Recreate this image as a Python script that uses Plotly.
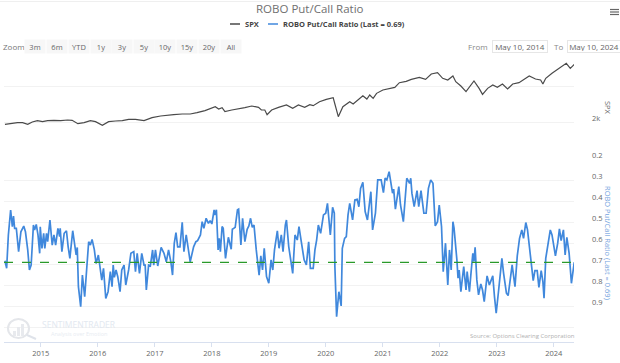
from datetime import datetime, timedelta
import plotly.graph_objects as go

TITLE = "ROBO Put/Call Ratio"
SPX_NAME = "SPX"
RATIO_NAME = "ROBO Put/Call Ratio (Last = 0.69)"
LAST_RATIO = 0.69
ZOOM_BUTTONS = ["3m", "6m", "YTD", "1y", "3y", "5y", "10y", "15y", "20y", "All"]
YEAR_TICKS = [2015, 2016, 2017, 2018, 2019, 2020, 2021, 2022, 2023, 2024]
RATIO_TICKS = [0.2, 0.3, 0.4, 0.5, 0.6, 0.7, 0.8, 0.9, 1.0]
RATIO_LABELS = ["0.2", "0.3", "0.4", "0.5", "0.6", "0.7", "0.8", "0.9", ""]
SPX_TICKS = [2000, 3676]
SPX_LABELS = ["2k", ""]

spx_years = [2014.37,2014.47,2014.59,2014.68,2014.77,2014.85,2014.94,2015.03,2015.12,2015.23,2015.35,2015.47,2015.55,2015.65,2015.76,2015.87,2015.96,2016.08,2016.19,2016.31,2016.43,2016.54,2016.66,2016.81,2016.95,2017.10,2017.21,2017.33,2017.48,2017.62,2017.74,2017.88,2018.06,2018.12,2018.18,2018.23,2018.35,2018.47,2018.58,2018.70,2018.82,2018.87,2018.93,2018.97,2019.05,2019.17,2019.31,2019.42,2019.52,2019.63,2019.72,2019.78,2019.89,2020.01,2020.13,2020.16,2020.22,2020.30,2020.42,2020.48,2020.56,2020.65,2020.72,2020.77,2020.83,2020.89,2021.00,2021.12,2021.21,2021.29,2021.41,2021.50,2021.64,2021.75,2021.85,2021.96,2022.05,2022.14,2022.23,2022.28,2022.37,2022.46,2022.52,2022.60,2022.69,2022.75,2022.84,2022.93,2023.01,2023.10,2023.19,2023.28,2023.39,2023.57,2023.68,2023.77,2023.81,2023.86,2023.97,2024.09,2024.22,2024.29,2024.36]
spx_values = [1946,1979,2001,2001,1946,2024,2070,2035,2070,2081,2070,2093,2081,1968,2001,2070,2035,1913,2035,2058,2070,2116,2116,2070,2177,2238,2276,2289,2315,2315,2367,2448,2618,2518,2575,2407,2476,2518,2575,2648,2589,2476,2476,2289,2476,2589,2693,2546,2693,2589,2708,2663,2848,2962,3046,2738,2213,2618,2848,2738,2929,3150,2978,3185,3012,3276,3465,3563,3623,3919,4008,4145,4287,4145,4534,4637,4215,4099,4384,3986,3706,3369,3623,4031,3563,3221,3563,3769,3623,3832,3524,3832,3919,4384,4169,4099,3832,4215,4585,4987,5424,4987,5334]

ratio_years = [2014.37,2014.40,2014.43,2014.47,2014.50,2014.52,2014.54,2014.57,2014.61,2014.65,2014.70,2014.73,2014.77,2014.80,2014.83,2014.87,2014.89,2014.92,2014.95,2014.98,2014.99,2015.02,2015.05,2015.07,2015.10,2015.12,2015.16,2015.20,2015.23,2015.26,2015.30,2015.33,2015.34,2015.37,2015.41,2015.45,2015.48,2015.51,2015.56,2015.59,2015.62,2015.64,2015.66,2015.70,2015.73,2015.77,2015.80,2015.84,2015.87,2015.90,2015.94,2015.97,2016.01,2016.05,2016.07,2016.10,2016.14,2016.18,2016.22,2016.25,2016.27,2016.29,2016.32,2016.35,2016.39,2016.42,2016.46,2016.49,2016.54,2016.58,2016.63,2016.66,2016.69,2016.73,2016.77,2016.81,2016.83,2016.85,2016.89,2016.92,2016.96,2016.98,2017.01,2017.05,2017.11,2017.16,2017.20,2017.24,2017.28,2017.31,2017.34,2017.37,2017.40,2017.44,2017.48,2017.51,2017.55,2017.62,2017.68,2017.72,2017.75,
2017.80,2017.83,2017.86,2017.90,2017.94,2017.97,2018.00,2018.04,2018.05,2018.08,2018.11,2018.13,2018.15,2018.18,2018.20,2018.24,2018.29,2018.34,2018.36,2018.41,2018.45,2018.47,2018.51,2018.54,2018.58,2018.62,2018.65,2018.68,2018.71,2018.74,2018.78,2018.80,2018.83,2018.86,2018.89,2018.92,2018.96,2019.00,2019.04,2019.07,2019.10,2019.15,2019.18,2019.22,2019.25,2019.29,2019.31,2019.35,2019.38,2019.42,2019.46,2019.50,2019.53,2019.57,2019.62,2019.66,2019.70,2019.73,2019.78,2019.81,2019.84,2019.87,2019.91,2019.96,2020.00,2020.03,2020.08,2020.12,2020.15,2020.16,2020.19,2020.23,2020.27,2020.29,2020.33,2020.36,2020.39,2020.42,2020.47,2020.51,2020.55,2020.58,2020.61,2020.65,2020.69,2020.73,2020.79,2020.82,2020.87,2020.91,2020.97,2021.01,2021.04,2021.07,2021.11,2021.17,2021.19,2021.22,2021.28,2021.31,2021.36,2021.42,2021.47,
2021.49,2021.51,2021.55,2021.60,2021.63,2021.67,2021.72,2021.76,2021.80,2021.84,2021.88,2021.92,2021.96,2021.99,2022.03,2022.06,2022.10,2022.14,2022.17,2022.20,2022.23,2022.25,2022.30,2022.32,2022.34,2022.37,2022.42,2022.46,2022.48,2022.52,2022.55,2022.58,2022.60,2022.62,2022.65,2022.68,2022.72,2022.75,2022.78,2022.83,2022.87,2022.93,2022.96,2022.99,2023.03,2023.09,2023.12,2023.17,2023.20,2023.27,2023.32,2023.36,2023.40,2023.44,2023.47,2023.51,2023.54,2023.57,2023.61,2023.64,2023.67,2023.71,2023.74,2023.78,2023.81,2023.83,2023.86,2023.89,2023.94,2023.97,2024.00,2024.03,2024.07,2024.10,2024.13,2024.17,2024.20,2024.23,2024.27,2024.29,2024.31,2024.36]
ratio_values = [.682,.718,.560,.442,.521,.470,.529,.529,.639,.545,.518,.545,.631,.726,.703,.513,.537,.510,.560,.647,.521,.624,.552,.624,.552,.592,.489,.608,.560,.608,.529,.568,.529,.639,.552,.540,.616,.671,.540,.600,.655,.619,.805,.900,.750,.853,.758,.592,.608,.581,.631,.695,.655,.734,.774,.718,.861,.829,.734,.805,.703,.761,.726,.758,.829,.726,.703,.797,.726,.647,.639,.734,.647,.742,.647,.703,.703,.821,.703,.707,.631,.703,.631,.707,.619,.647,.687,.631,.687,.750,.600,.549,.616,.616,.500,.639,.560,.687,.616,.592,.587,
.560,.497,.528,.481,.505,.492,.508,.441,.465,.441,.631,.576,.639,.520,.528,.671,.571,.628,.533,.524,.441,.438,.607,.481,.592,.533,.517,.481,.524,.513,.631,.694,.750,.659,.726,.623,.757,.789,.678,.726,.631,.541,.623,.560,.639,.513,.489,.615,.663,.742,.560,.584,.520,.584,.678,.702,.592,.718,.718,.631,.584,.513,.552,.465,.457,.410,.560,.429,.457,.710,.947,.829,.896,.623,.576,.568,.465,.410,.489,.394,.391,.426,.339,.310,.449,.489,.355,.536,.457,.299,.299,.359,.291,.299,.260,.362,.343,.438,.331,.418,.497,.291,.315,
.291,.362,.426,.350,.426,.350,.457,.457,.339,.299,.315,.517,.497,.418,.520,.734,.599,.797,.631,.726,.497,.528,.678,.765,.726,.829,.710,.821,.734,.829,.734,.647,.686,.618,.773,.844,.792,.821,.876,.754,.797,.754,.852,.931,.829,.671,.742,.836,.847,.702,.805,.659,.576,.536,.576,.501,.536,.615,.726,.776,.729,.729,.808,.729,.781,.860,.671,.623,.536,.560,.623,.659,.599,.531,.587,.536,.655,.571,.647,.742,.789,.689]


def to_date(y):
    year = int(y)
    start = datetime(year, 1, 1)
    length = (datetime(year + 1, 1, 1) - start).days
    return start + timedelta(days=(y - year) * length)


W, H = 620, 363
L, R, B = 4, 46, 21
PW, PH = W - L - R, H - B


def px(x):
    return (x - L) / PW


def py(y):
    return (H - B - y) / PH


FONT = "Open Sans, Noto Sans, sans-serif"
GRID = "#f2f2f2"
AXIS = "#d8e0ef"
TXT = "#666666"
SPX_COLOR = "#4a4a4a"
RATIO_COLOR = "#4088dc"

fig = go.Figure()
fig.add_trace(go.Scatter(x=[to_date(v) for v in spx_years], y=spx_values, yaxis="y", mode="lines",
                         name=SPX_NAME, line=dict(color=SPX_COLOR, width=1.2)))
fig.add_trace(go.Scatter(x=[to_date(v) for v in ratio_years], y=ratio_values, yaxis="y2", mode="lines",
                         name=RATIO_NAME, line=dict(color=RATIO_COLOR, width=1.7)))
fig.add_trace(go.Scatter(x=[datetime(2014, 5, 10), datetime(2024, 5, 10)], y=[LAST_RATIO, LAST_RATIO], yaxis="y2",
                         mode="lines", line=dict(color="#2a9a2a", width=1.2, dash="dash")))

ann = []


def text(x, y, s, size=8, color=TXT, xanchor="center", **kw):
    ann.append(dict(xref="paper", yref="paper", x=px(x), y=py(y), text=s, showarrow=False,
                    xanchor=xanchor, yanchor="middle",
                    font=dict(size=size, color=color, family=FONT), **kw))


text(310, 9, TITLE, size=11.5, color="#707070")
text(243, 24, f"<b>{SPX_NAME}</b>", size=7.5, color="#444444", xanchor="left")
text(281, 24, f"<b>{RATIO_NAME}</b>", size=7.5, color="#444444", xanchor="left")
text(13.5, 46.5, "Zoom", size=8, color="#777777")
for cx, label in zip([35, 57, 79, 101, 122, 144, 165, 187, 209, 231], ZOOM_BUTTONS):
    text(cx, 46.5, label, size=7.5, color="#666666", bgcolor="#f7f7f7", width=18, height=11)
text(478, 46.5, "From", size=8, color="#888888")
text(519.5, 46.5, "May 10, 2014", size=8, color="#666666", bgcolor="#ffffff", bordercolor="#e6e6e6",
     borderwidth=1, width=52, height=9)
text(558, 46.5, "To", size=8, color="#888888")
text(594, 46.5, "May 10, 2024", size=8, color="#666666", bgcolor="#ffffff", bordercolor="#e6e6e6",
     borderwidth=1, width=50, height=9)
text(608, 108, SPX_NAME, size=7.5, color="#666666", textangle=90)
text(608, 243, RATIO_NAME, size=7.5, color="#74a3de", textangle=90)
text(79, 324, "SENTIMENTRADER", size=8.5, color="#e2e8f0")
text(79, 334, "Analysis over Emotion", size=5.5, color="#e8ecf2")
text(522, 336, "Source: Options Clearing Corporation", size=6, color="#b0b0b0")

shapes = []


def rect_shape(kind, x0, y0, x1, y1, **kw):
    shapes.append(dict(type=kind, xref="paper", yref="paper", x0=px(x0), x1=px(x1), y0=py(y0), y1=py(y1), **kw))


rect_shape("line", 0, 1.5, 620, 1.5, line=dict(color="#efefef", width=1))
rect_shape("line", 230, 24, 240, 24, line=dict(color=SPX_COLOR, width=1.5))
rect_shape("line", 268, 24, 278, 24, line=dict(color=RATIO_COLOR, width=1.5))
for yy in (9.5, 12, 14.5):
    rect_shape("line", 610, yy, 619, yy, line=dict(color="#666666", width=1.2))
rect_shape("circle", 8, 319, 29, 338, line=dict(color="#e4e6ea", width=2))
rect_shape("line", 27, 335, 36, 339, line=dict(color="#dfe3ea", width=2))
for x0, top in ((13, 331), (17, 327), (21, 324)):
    rect_shape("rect", x0, top, x0 + 3, 336, fillcolor="#e8eaee", line=dict(width=0))

fig.update_layout(
    template="none",
    width=W, height=H, autosize=False, showlegend=False,
    margin=dict(l=L, r=R, t=0, b=B, pad=0),
    paper_bgcolor="#ffffff", plot_bgcolor="#ffffff",
    font=dict(family=FONT, color=TXT, size=8),
    annotations=ann, shapes=shapes,
    xaxis=dict(type="date", anchor="y2", range=[datetime(2014, 5, 10), datetime(2024, 5, 10)],
               tickvals=[datetime(y, 1, 1) for y in YEAR_TICKS], ticktext=[str(y) for y in YEAR_TICKS],
               showgrid=False, showline=True, linecolor=AXIS, linewidth=1, ticks="outside", ticklen=4,
               tickcolor=AXIS, tickfont=dict(size=7.5, color="#666666"), zeroline=False, automargin=False),
    yaxis=dict(type="log", domain=[py(156), py(60)], range=[3.05796, 3.75869], side="right", anchor="x",
               tickvals=SPX_TICKS, ticktext=SPX_LABELS, gridcolor=GRID, gridwidth=1, showline=False,
               zeroline=False, tickfont=dict(size=7.5, color="#666666"), ticks="", ticklabelstandoff=17,
               ticklabelshift=-4, automargin=False),
    yaxis2=dict(domain=[0, py(159)], range=[1.0673, 0.2], side="right", anchor="x",
                tickvals=RATIO_TICKS, ticktext=RATIO_LABELS, gridcolor=GRID, gridwidth=1, showline=False,
                zeroline=False, tickfont=dict(size=7.5, color="#666666"), ticks="", ticklabelstandoff=17,
                ticklabelshift=4, automargin=False),
)
fig.write_html("out.html", config=dict(displayModeBar=False),
               post_script="document.body.style.margin='0';document.documentElement.style.overflow='hidden';")
